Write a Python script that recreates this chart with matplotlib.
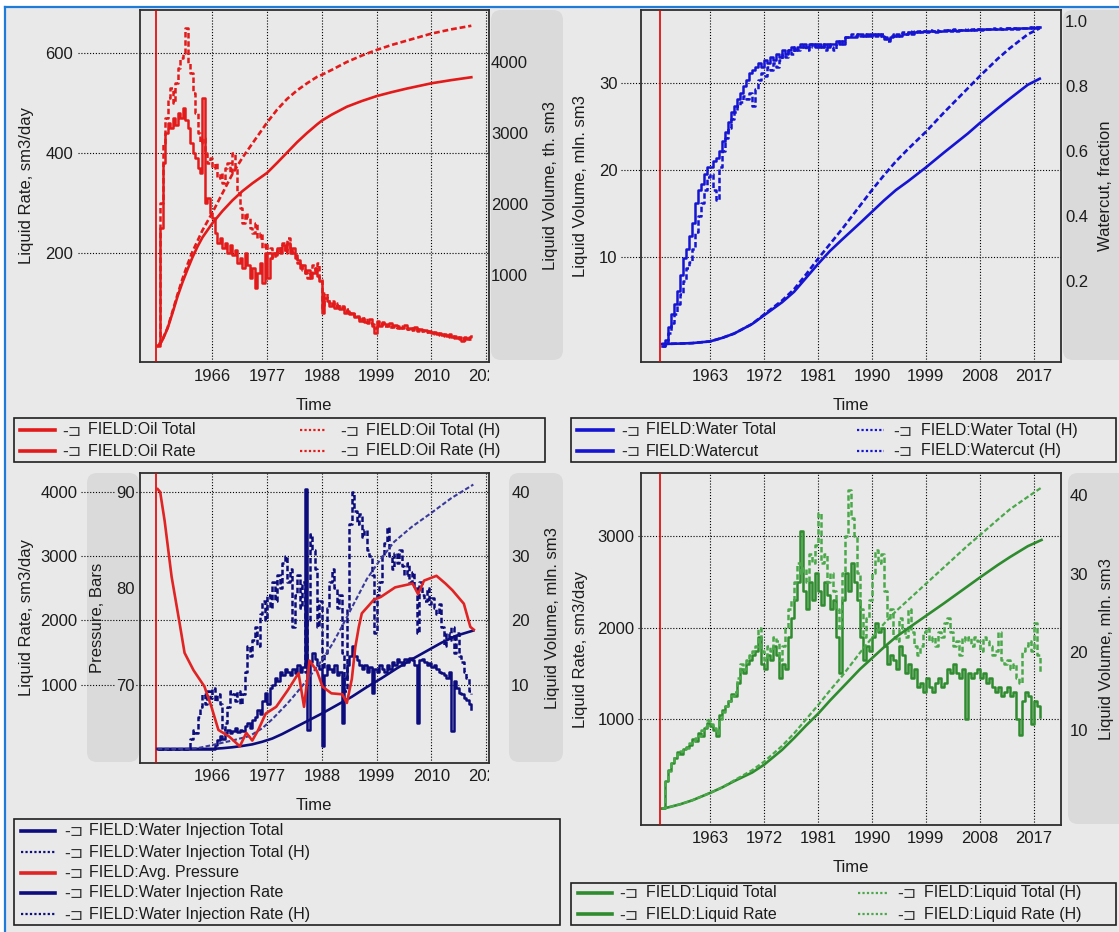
import numpy as np
import matplotlib
matplotlib.use("Agg")
import matplotlib.pyplot as plt
from matplotlib.lines import Line2D
from matplotlib.patches import FancyBboxPatch, Rectangle
from matplotlib.transforms import Affine2D, Bbox, TransformedBbox, blended_transform_factory

# ---------------- data ----------------
rate_start_year = 1955.0
rate_step_years = 0.5
start_marker_year = 1954.7

oil_rate_sim = [
    15, 250, 380, 440, 460, 450, 470, 455, 480, 470,
    490, 465, 450, 420, 400, 390, 370, 360, 510, 300,
    310, 280, 270, 240, 220, 230, 210, 220, 200, 215,
    195, 205, 180, 190, 170, 200, 175, 150, 170, 130,
    160, 180, 140, 200, 150, 190, 200, 195, 210, 200,
    215, 205, 220, 200, 210, 190, 185, 170, 175, 160,
    165, 150, 160, 170, 155, 145, 80, 110, 105, 95,
    100, 90, 95, 88, 92, 80, 85, 78, 80, 72,
    75, 65, 70, 62, 60, 68, 55, 40, 60, 55,
    62, 58, 55, 60, 52, 57, 55, 50, 52, 56,
    48, 50, 47, 52, 45, 48, 44, 46, 42, 45,
    40, 43, 38, 41, 36, 39, 35, 38, 33, 35,
    30, 33, 25, 32, 28, 33, 35]
oil_rate_hist = [
    20, 300, 420, 470, 510, 530, 500, 540, 570, 590,
    600, 650, 580, 560, 520, 480, 440, 420, 430, 400,
    380, 390, 370, 380, 350, 360, 340, 370, 380, 360,
    400, 370, 320, 290, 260, 280, 270, 250, 240, 260,
    230, 240, 210, 220, 200, 210, 190, 205, 200, 210,
    220, 200, 230, 210, 200, 195, 180, 175, 165, 160,
    150, 160, 175, 165, 180, 150, 90, 120, 110, 100,
    105, 95, 100, 90, 95, 85, 88, 80, 82, 75,
    72, 68, 65, 70, 62, 60, 58, 50, 65, 58,
    60, 55, 57, 52, 55, 53, 50, 54, 50, 52,
    49, 47, 50, 46, 48, 44, 46, 42, 44, 40,
    42, 39, 40, 37, 38, 35, 36, 33, 34, 31,
    32, 28, 30, 26, 30, 28, 32]

oil_total_years = [1955, 1955.5, 1956, 1957, 1958, 1959, 1960, 1961, 1962, 1963,
                   1964, 1966, 1968, 1970, 1972, 1974, 1977, 1979, 1981, 1983,
                   1985, 1987, 1988, 1990, 1993, 1996, 1999, 2002, 2005, 2010,
                   2014, 2018]
oil_total_sim = [0, 30, 90, 250, 470, 700, 900, 1080, 1250, 1400,
                 1530, 1730, 1900, 2050, 2180, 2290, 2440, 2580, 2725, 2870,
                 3000, 3120, 3175, 3260, 3370, 3450, 3520, 3575, 3625, 3700,
                 3745, 3785]
oil_total_hist = [0, 30, 95, 260, 490, 730, 950, 1150, 1330, 1480,
                  1630, 1880, 2150, 2420, 2650, 2850, 3150, 3330, 3480, 3600,
                  3700, 3790, 3820, 3890, 4000, 4090, 4170, 4240, 4300, 4400,
                  4460, 4510]

watercut_sim = [
    0.00, 0.02, 0.06, 0.10, 0.13, 0.17, 0.22, 0.27, 0.30, 0.34,
    0.38, 0.44, 0.48, 0.50, 0.53, 0.55, 0.55, 0.57, 0.58, 0.60,
    0.63, 0.66, 0.69, 0.72, 0.74, 0.76, 0.78, 0.80, 0.82, 0.84,
    0.85, 0.86, 0.87, 0.86, 0.88, 0.87, 0.89, 0.88, 0.90, 0.89,
    0.91, 0.90, 0.91, 0.92, 0.91, 0.92, 0.92, 0.93, 0.92, 0.93,
    0.93, 0.92, 0.93, 0.92, 0.93, 0.92, 0.93, 0.93, 0.94, 0.93,
    0.94, 0.95, 0.95, 0.95, 0.95, 0.96, 0.96, 0.955, 0.96, 0.955,
    0.96, 0.955, 0.96, 0.955, 0.95, 0.945, 0.95, 0.955, 0.96, 0.955,
    0.96, 0.96, 0.965, 0.96, 0.965, 0.97, 0.965, 0.97, 0.965, 0.97,
    0.97, 0.965, 0.97, 0.97, 0.968, 0.972, 0.97, 0.972, 0.97, 0.974,
    0.972, 0.974, 0.973, 0.975, 0.973, 0.975, 0.974, 0.976, 0.975, 0.976,
    0.975, 0.977, 0.976, 0.977, 0.976, 0.978, 0.977, 0.978, 0.977, 0.979,
    0.978, 0.98, 0.979, 0.981, 0.98, 0.982, 0.981]
watercut_hist = [
    0.00, 0.01, 0.04, 0.07, 0.10, 0.13, 0.16, 0.20, 0.24, 0.26,
    0.30, 0.35, 0.40, 0.44, 0.48, 0.52, 0.53, 0.48, 0.45, 0.55,
    0.60, 0.64, 0.67, 0.70, 0.72, 0.74, 0.75, 0.77, 0.76, 0.78,
    0.74, 0.79, 0.82, 0.84, 0.83, 0.86, 0.85, 0.87, 0.86, 0.88,
    0.90, 0.89, 0.91, 0.90, 0.92, 0.91, 0.93, 0.92, 0.91, 0.93,
    0.92, 0.93, 0.92, 0.93, 0.91, 0.93, 0.92, 0.91, 0.93, 0.94,
    0.93, 0.95, 0.95, 0.96, 0.955, 0.96, 0.955, 0.96, 0.955, 0.96,
    0.955, 0.96, 0.955, 0.96, 0.945, 0.94, 0.955, 0.96, 0.955, 0.96,
    0.965, 0.96, 0.97, 0.965, 0.97, 0.965, 0.97, 0.968, 0.97, 0.972,
    0.968, 0.972, 0.97, 0.974, 0.971, 0.973, 0.972, 0.975, 0.973, 0.974,
    0.975, 0.973, 0.976, 0.974, 0.976, 0.975, 0.977, 0.976, 0.977, 0.976,
    0.978, 0.977, 0.978, 0.977, 0.979, 0.978, 0.979, 0.978, 0.98, 0.979,
    0.98, 0.979, 0.981, 0.98, 0.982, 0.981, 0.983]

water_total_years = [1955, 1958, 1960, 1963, 1965, 1967, 1970, 1972, 1975, 1977,
                     1979, 1981, 1983, 1985, 1988, 1990, 1992, 1994, 1996, 1999,
                     2002, 2004, 2006, 2008, 2011, 2013, 2016, 2018]
water_total_sim = [0, 0.05, 0.1, 0.3, 0.7, 1.2, 2.3, 3.3, 4.8, 6.0,
                   7.6, 9.2, 10.7, 12.0, 13.9, 15.2, 16.5, 17.7, 18.7, 20.3,
                   22.0, 23.1, 24.2, 25.4, 27.1, 28.2, 29.8, 30.5]
water_total_hist = [0, 0.05, 0.1, 0.3, 0.7, 1.2, 2.3, 3.4, 5.0, 6.3,
                    8.0, 9.8, 11.5, 13.2, 15.9, 17.7, 19.4, 21.0, 22.4, 24.4,
                    26.6, 28.0, 29.4, 30.8, 32.8, 34.0, 35.6, 36.3]

inj_rate_sim = [
    0, 0, 0, 0, 0, 0, 0, 0, 0, 0,
    0, 0, 0, 0, 0, 0, 0, 0, 0, 0,
    0, 0, 0, 60, 140, 200, 160, 250, 300, 250,
    280, 320, 260, 300, 280, 350, 400, 330, 450, 500,
    600, 550, 750, 870, 700, 950, 1000, 1100, 1050, 1200,
    1150, 1250, 1200, 1150, 1250, 1180, 1300, 1200, 1280, 4050,
    300, 1350, 1500, 1400, 1300, 1250, 50, 1150, 1300, 1250,
    1200, 1300, 1150, 1200, 400, 1100, 1300, 1450, 1600, 1450,
    1380, 1300, 1250, 1300, 1200, 1280, 870, 1250, 1200, 1300,
    1250, 1200, 1300, 1250, 1350, 1300, 1400, 1350, 1300, 1400,
    1350, 1420, 1380, 1300, 400, 1380, 1400, 1350, 1300, 1330,
    1280, 1300, 1250, 1200, 1180, 1150, 1100, 1200, 280, 1050,
    950, 870, 850, 800, 760, 700, 620]
inj_rate_hist = [
    0, 0, 0, 0, 0, 0, 0, 0, 0, 0,
    0, 0, 0, 150, 300, 250, 500, 650, 850, 700,
    900, 800, 950, 750, 850, 700, 300, 400, 650, 900,
    850, 750, 900, 700, 850, 1200, 1600, 1450, 1700, 1900,
    1600, 2100, 2300, 2000, 2400, 2200, 2600, 2300, 2700, 2500,
    2900, 3000, 2600, 2800, 1900, 2400, 2700, 2200, 2600, 1200,
    2000, 3350, 3100, 2800, 1900, 2300, 1250, 1500, 2200, 2600,
    2800, 2500, 2200, 2400, 1500, 900, 2200, 3500, 4000, 3700,
    3500, 3650, 3300, 3400, 3100, 3000, 2700, 1800, 2400, 2600,
    3000, 3200, 3450, 3000, 2800, 3050, 2900, 3100, 2850, 2700,
    2900, 2600, 2750, 2500, 1800, 2600, 2400, 2300, 2500, 2250,
    2350, 2200, 2100, 2250, 1900, 1600, 1800, 1700, 1900, 1500,
    1800, 1450, 1350, 1200, 1100, 900, 850]

inj_total_sim_years = [1955, 1966, 1968, 1970, 1972, 1974, 1976, 1978, 1980, 1982,
                       1985, 1988, 1991, 1994, 1997, 2000, 2003, 2006, 2009, 2012,
                       2015, 2018.4]
inj_total_sim = [0, 0, 0.1, 0.25, 0.45, 0.7, 1.1, 1.6, 2.3, 3.1,
                 4.3, 5.5, 6.8, 8.1, 9.6, 11.0, 12.5, 13.9, 15.2, 16.5,
                 17.6, 18.4]
inj_total_hist_years = [1955, 1961, 1963, 1966, 1970, 1973.5, 1976, 1978, 1981, 1983,
                        1985, 1988, 1990, 1992, 1995.3, 1997, 1999.6, 2002.5, 2006, 2009.8,
                        2014, 2018.4]
inj_total_hist = [0, 0, 0.1, 0.6, 1.3, 2.0, 3.2, 4.6, 7.0, 8.8,
                  10.7, 13.8, 16.2, 19.0, 23.9, 26.4, 29.3, 32.2, 34.5, 36.6,
                  39.0, 41.1]

pressure_years = [1955.0, 1955.5, 1956.4, 1957.8, 1959.3, 1960.4, 1962.2, 1964.4, 1965.8, 1967.2,
                  1969.4, 1971.5, 1972.8, 1974.0, 1975.2, 1976.7, 1978.8, 1981.1, 1983.3, 1984.4,
                  1985.5, 1987.0, 1988.1, 1989.9, 1992.1, 1993.0, 1994.0, 1994.7, 1995.4, 1996.0,
                  1998.4, 1999.8, 2002.7, 2006.2, 2007.3, 2008.5, 2011.0, 2012.8, 2014.2, 2016.5,
                  2017.8, 2018.5]
pressure_avg = [90.3, 90.0, 87.0, 81.2, 76.7, 73.3, 71.5, 69.8, 67.7, 65.3,
                64.6, 63.6, 65.0, 64.2, 65.3, 67.0, 67.7, 69.4, 71.2, 67.7,
                72.5, 71.4, 69.8, 69.1, 69.0, 68.1, 70.6, 73.9, 76.0, 77.4,
                78.8, 79.1, 80.1, 80.5, 79.4, 80.8, 81.3, 80.5, 79.8, 78.4,
                76.0, 75.7]

liq_rate_sim = [
    30, 330, 450, 520, 580, 640, 620, 680, 700, 720,
    780, 760, 850, 820, 900, 960, 930, 880, 820, 1050,
    1100, 1150, 1200, 1280, 1250, 1400, 1550, 1500, 1600, 1650,
    1700, 1750, 1900, 1600, 1550, 1700, 1650, 1800, 1700, 1450,
    1600, 1550, 1900, 2100, 2300, 2500, 3050, 2400, 2200, 2500,
    2300, 2600, 2400, 2250, 2500, 2350, 2200, 2300, 1900, 1500,
    2300, 2600, 2400, 2700, 2500, 2300, 1900, 1650, 1800, 1750,
    1900, 2050, 1950, 2000, 1800, 1600, 1700, 1650, 1550, 1800,
    1700, 1500, 1600, 1450, 1550, 1350, 1400, 1300, 1450, 1350,
    1300, 1400, 1450, 1350, 1400, 1550, 1500, 1600, 1500, 1450,
    1550, 1000, 1500, 1450, 1500, 1550, 1450, 1500, 1400, 1450,
    1350, 1300, 1350, 1250, 1300, 1350, 1250, 1300, 1000, 830,
    1200, 1300, 1250, 950, 1200, 1150, 1030]
liq_rate_hist = [
    30, 320, 440, 520, 600, 620, 650, 670, 690, 740,
    760, 800, 820, 880, 920, 990, 950, 900, 850, 1000,
    1080, 1150, 1200, 1250, 1300, 1450, 1600, 1550, 1650, 1700,
    1750, 1800, 2000, 1750, 1650, 1800, 1750, 1900, 1850, 1650,
    1800, 2000, 2200, 2300, 2500, 2700, 2600, 2650, 2500, 2800,
    2700, 2900, 3250, 2700, 2800, 2500, 2600, 2400, 2200, 2000,
    2600, 3000, 3500, 3200, 3000, 2600, 2200, 1900, 2100, 2300,
    2600, 2850, 2700, 2800, 2400, 2100, 2200, 1900, 1850, 2100,
    2000, 1900, 2200, 1950, 1800, 1700, 1800, 1950, 2000, 1850,
    1900, 1800, 1950, 1900, 2050, 2100, 1950, 1800, 1850, 1700,
    1900, 1850, 1900, 1800, 1900, 1850, 1750, 1900, 1850, 1800,
    1700, 1750, 1950, 1650, 1600, 1650, 1550, 1600, 1450, 1400,
    1750, 1800, 1850, 1750, 2050, 1700, 1500]

liq_total_years = [1955, 1956, 1958, 1960, 1963, 1965, 1967, 1970, 1972, 1975,
                   1977, 1979, 1981, 1983, 1985, 1988, 1990, 1992, 1994, 1996,
                   1999, 2002, 2004, 2006, 2008, 2011, 2013, 2016, 2018.3]
liq_total_sim = [0, 0.15, 0.55, 1.05, 2.0, 2.7, 3.5, 4.6, 5.6, 7.5,
                 9.0, 10.6, 12.1, 13.8, 15.4, 17.8, 19.2, 20.6, 21.9, 23.0,
                 24.6, 26.2, 27.3, 28.4, 29.5, 31.1, 32.1, 33.5, 34.3]
liq_total_hist = [0, 0.15, 0.55, 1.05, 2.0, 2.7, 3.6, 4.9, 6.0, 8.0,
                  9.6, 11.4, 13.2, 15.1, 16.9, 19.9, 21.8, 23.6, 25.2, 26.6,
                  28.7, 30.8, 32.2, 33.6, 34.9, 36.9, 38.2, 39.8, 41.0]

ticks_years_narrow = [1966, 1977, 1988, 1999, 2010, 2021]
ticks_years_wide = [1963, 1972, 1981, 1990, 1999, 2008, 2017]

# ---------------- style ----------------
plt.rcParams['font.family'] = ['Liberation Sans', 'DejaVu Sans']
W, H = 1119, 932
BG = '#e9e9e9'
BAND = '#dadada'
SPINE = '#2e2e2e'
TXT = '#1c1c1c'
XLIM = (1951.45, 2021.55)
C_OIL = '#e31a1a'
C_WAT = '#1414d2'
C_INJ = '#0c0c7c'
C_PRS = '#e02424'
C_LIQ = '#2e8b2e'
C_LIQH = '#4aa84a'
HSTYLE = (0, (2.2, 1.1))
GRID_LS = (0, (1, 1.6))
RATE_LW = 1.8
TOT_LW = 1.9

fig = plt.figure(figsize=(W / 100, H / 100), dpi=100)
fig.patch.set_facecolor(BG)
T = Affine2D().scale(0.01, -0.01).translate(0, H / 100) + fig.dpi_scale_trans

t_rate = rate_start_year + rate_step_years * np.arange(len(oil_rate_sim))


def band(x0, y0, x1, y1):
    fig.add_artist(FancyBboxPatch((x0, y0), x1 - x0, y1 - y0,
                                  boxstyle="round,pad=0,rounding_size=10",
                                  transform=T, facecolor=BAND, edgecolor='none', zorder=-5))


def panel(x0, y0, x1, y1):
    ax = fig.add_axes([x0 / W, 1 - y1 / H, (x1 - x0) / W, (y1 - y0) / H])
    ax.set_facecolor(BG)
    for s in ax.spines.values():
        s.set_color(SPINE)
        s.set_linewidth(1.3)
    ax.grid(True, color='black', linestyle=GRID_LS, linewidth=0.8)
    ax.tick_params(length=0, labelsize=12, labelcolor=TXT)
    ax.axvline(start_marker_year, color='#e00000', lw=1.2, zorder=3)
    return ax


def twin(ax, left=False):
    t = ax.twinx()
    t.patch.set_visible(False)
    for s in t.spines.values():
        s.set_visible(False)
    t.tick_params(length=0, labelsize=12, labelcolor=TXT)
    if left:
        t.yaxis.tick_left()
    return t


def leaders(ax, xs, x0, x1, values):
    tr = blended_transform_factory(ax.transAxes, ax.transData)
    f = (xs - x0) / (x1 - x0)
    for v in values:
        ax.plot([f, 0], [v, v], transform=tr, clip_on=False, color='black',
                ls=GRID_LS, lw=0.8)


def clip_last_xlabel(ax, xclip):
    tk = ax.xaxis.get_major_ticks()[-1]
    bb = TransformedBbox(Bbox([[0, 0], [xclip, H]]), Affine2D().scale(0.01) + fig.dpi_scale_trans)
    tk.label1.set_clip_box(bb)
    tk.label1.set_clip_on(True)


def label(x, y, s, rot=90):
    fig.text(x, y, s, transform=T, rotation=rot, ha='center', va='center',
             fontsize=12, color=TXT)


def legend_box(x0, y0, x1, y1, entries):
    fig.add_artist(Rectangle((x0, y0), x1 - x0, y1 - y0, transform=T, fill=False,
                             edgecolor='#202020', lw=1.2))
    for lx, ll, ix, tx, y, color, hist, text in entries:
        if hist:
            fig.add_artist(Line2D([lx, lx + ll], [y, y], transform=T, color=color,
                                  lw=1.6, ls=(0, (1, 1))))
        else:
            fig.add_artist(Line2D([lx, lx + ll], [y, y], transform=T, color=color, lw=2.6))
        fig.text(ix, y + 1, '-\u2290', transform=T, ha='left', va='center', fontsize=11.5,
                 color='#333333', family=['DejaVu Sans'])
        fig.text(tx, y, text, transform=T, ha='left', va='center', fontsize=11.5, color=TXT)


def rate_line(ax, y, color, hist=False):
    ax.plot(t_rate, y, color=color, lw=RATE_LW, ls=HSTYLE if hist else '-',
            drawstyle='steps-post')


def total_line(ax, x, y, color, hist=False, lw=TOT_LW):
    ax.plot(x, y, color=color, lw=lw, ls=HSTYLE if hist else '-',
            solid_joinstyle='round')


# white margin and blue frame of the window
fig.add_artist(Rectangle((0, 0), W, 5.5, transform=T, facecolor='white', edgecolor='none', zorder=-6))
fig.add_artist(Rectangle((0, 0), 4, H, transform=T, facecolor='white', edgecolor='none', zorder=-6))
fig.add_artist(Line2D([5, W], [6.5, 6.5], transform=T, color='#1f7bd8', lw=1.6))
fig.add_artist(Line2D([5, 5], [6.5, H], transform=T, color='#1f7bd8', lw=1.6))

# gray label bands
band(491, 10, 563, 360)
band(1063, 10, 1130, 360)
band(87, 473, 139, 762)
band(509, 473, 563, 762)
band(1068, 473, 1130, 824)

# ---------------- panel 1: oil ----------------
x0, y0, x1, y1 = 140, 10, 489, 362
ax1 = panel(x0, y0, x1, y1)
rate_line(ax1, oil_rate_sim, C_OIL)
rate_line(ax1, oil_rate_hist, C_OIL, hist=True)
ax1r = twin(ax1)
total_line(ax1r, oil_total_years, oil_total_sim, C_OIL)
total_line(ax1r, oil_total_years, oil_total_hist, C_OIL, hist=True)
ax1.set_xlim(*XLIM)
ax1.set_xticks(ticks_years_narrow)
ax1.set_ylim(-18, 686)
ax1.set_yticks([200, 400, 600])
ax1r.set_ylim(-225, 4732)
ax1r.set_yticks([1000, 2000, 3000, 4000])
ax1.tick_params(axis='y', pad=48)
ax1.tick_params(axis='x', pad=5)
ax1r.tick_params(axis='y', pad=1.5)
leaders(ax1, 78, x0, x1, [200, 400, 600])
clip_last_xlabel(ax1, x1)
label(27, 186, 'Liquid Rate, sm3/day')
label(550, 186, 'Liquid Volume, th. sm3')
label(314, 405, 'Time', rot=0)

# ---------------- panel 2: water ----------------
x0, y0, x1, y1 = 641, 10, 1061, 362
ax2 = panel(x0, y0, x1, y1)
total_line(ax2, water_total_years, water_total_sim, C_WAT)
total_line(ax2, water_total_years, water_total_hist, C_WAT, hist=True)
ax2r = twin(ax2)
rate_line(ax2r, watercut_sim, C_WAT)
rate_line(ax2r, watercut_hist, C_WAT, hist=True)
ax2.set_xlim(*XLIM)
ax2.set_xticks(ticks_years_wide)
ax2.set_ylim(-2.07, 38.4)
ax2.set_yticks([10, 20, 30])
ax2r.set_ylim(-0.049, 1.034)
ax2r.set_yticks([0.2, 0.4, 0.6, 0.8, 1.0])
ax2r.set_yticklabels(['0.2', '0.4', '0.6', '0.8', '1.0'])
ax2.tick_params(axis='y', pad=17)
ax2.tick_params(axis='x', pad=5)
ax2r.tick_params(axis='y', pad=3)
leaders(ax2, 621, x0, x1, [10, 20, 30])
label(580, 186, 'Liquid Volume, mln. sm3')
label(1106, 186, 'Watercut, fraction')
label(851, 405, 'Time', rot=0)

# ---------------- panel 3: injection / pressure ----------------
x0, y0, x1, y1 = 140, 473, 489, 763
ax3 = panel(x0, y0, x1, y1)
rate_line(ax3, inj_rate_sim, C_INJ)
rate_line(ax3, inj_rate_hist, C_INJ, hist=True)
ax3v = twin(ax3)
total_line(ax3v, inj_total_sim_years, inj_total_sim, C_INJ)
total_line(ax3v, inj_total_hist_years, inj_total_hist, '#3a3a9a', hist=True, lw=1.5)
ax3p = twin(ax3, left=True)
ax3p.plot(pressure_years, pressure_avg, color=C_PRS, lw=1.9, solid_joinstyle='round')
ax3.set_xlim(*XLIM)
ax3.set_xticks(ticks_years_narrow)
ax3.set_ylim(-218, 4292)
ax3.set_yticks([1000, 2000, 3000, 4000])
ax3v.set_ylim(-2.2, 42.9)
ax3v.set_yticks([10, 20, 30, 40])
ax3p.set_ylim(61.87, 91.97)
ax3p.set_yticks([70, 80, 90])
ax3.tick_params(axis='y', pad=45)
ax3.tick_params(axis='x', pad=4)
ax3v.tick_params(axis='y', pad=16)
ax3p.tick_params(axis='y', pad=4)
for tk in ax3p.yaxis.get_major_ticks():
    tk.label1.set_bbox(dict(facecolor=BAND, edgecolor='none', pad=0.5))
leaders(ax3, 81, x0, x1, [1000, 2000, 3000, 4000])
clip_last_xlabel(ax3, x1)
label(27, 618, 'Liquid Rate, sm3/day')
label(97, 618, 'Pressure, Bars')
label(552, 618, 'Liquid Volume, mln. sm3')
label(314, 805, 'Time', rot=0)

# ---------------- panel 4: liquid ----------------
x0, y0, x1, y1 = 641, 473, 1061, 825
ax4 = panel(x0, y0, x1, y1)
rate_line(ax4, liq_rate_sim, C_LIQ)
rate_line(ax4, liq_rate_hist, C_LIQH, hist=True)
ax4r = twin(ax4)
total_line(ax4r, liq_total_years, liq_total_sim, C_LIQ)
total_line(ax4r, liq_total_years, liq_total_hist, C_LIQH, hist=True, lw=1.6)
ax4.set_xlim(*XLIM)
ax4.set_xticks(ticks_years_wide)
ax4.set_ylim(-153, 3686)
ax4.set_yticks([1000, 2000, 3000])
ax4r.set_ylim(-2.1, 42.85)
ax4r.set_yticks([10, 20, 30, 40])
ax4.tick_params(axis='y', pad=4.5)
ax4.tick_params(axis='x', pad=4.5)
ax4r.tick_params(axis='y', pad=6)
leaders(ax4, 638, x0, x1, [1000, 2000, 3000])
label(580, 649, 'Liquid Rate, sm3/day')
label(1106, 649, 'Liquid Volume, mln. sm3')
label(851, 868, 'Time', rot=0)

# ---------------- legends ----------------
legend_box(14, 418, 545, 462, [
    (20, 35, 62, 88, 430, C_OIL, False, 'FIELD:Oil Total'),
    (20, 35, 62, 88, 451, C_OIL, False, 'FIELD:Oil Rate'),
    (300, 26, 340, 366, 430, C_OIL, True, 'FIELD:Oil Total (H)'),
    (300, 26, 340, 366, 451, C_OIL, True, 'FIELD:Oil Rate (H)'),
])
legend_box(571, 418, 1116, 462, [
    (577, 36, 621, 646, 430, C_WAT, False, 'FIELD:Water Total'),
    (577, 36, 621, 646, 451, C_WAT, False, 'FIELD:Watercut'),
    (857, 27, 893, 921, 430, C_WAT, True, 'FIELD:Water Total (H)'),
    (857, 27, 893, 921, 451, C_WAT, True, 'FIELD:Watercut (H)'),
])
legend_box(14, 819, 560, 925, [
    (21, 34, 64, 89, 831, C_INJ, False, 'FIELD:Water Injection Total'),
    (21, 34, 64, 89, 852, C_INJ, True, 'FIELD:Water Injection Total (H)'),
    (21, 34, 64, 89, 873, C_PRS, False, 'FIELD:Avg. Pressure'),
    (21, 34, 64, 89, 893, C_INJ, False, 'FIELD:Water Injection Rate'),
    (21, 34, 64, 89, 914, C_INJ, True, 'FIELD:Water Injection Rate (H)'),
])
legend_box(571, 883, 1116, 925, [
    (578, 34, 619, 646, 893, C_LIQ, False, 'FIELD:Liquid Total'),
    (578, 34, 619, 646, 914, C_LIQ, False, 'FIELD:Liquid Rate'),
    (858, 29, 897, 924, 893, C_LIQH, True, 'FIELD:Liquid Total (H)'),
    (858, 29, 897, 924, 914, C_LIQH, True, 'FIELD:Liquid Rate (H)'),
])

fig.savefig('out.png', dpi=100, facecolor=fig.get_facecolor())
